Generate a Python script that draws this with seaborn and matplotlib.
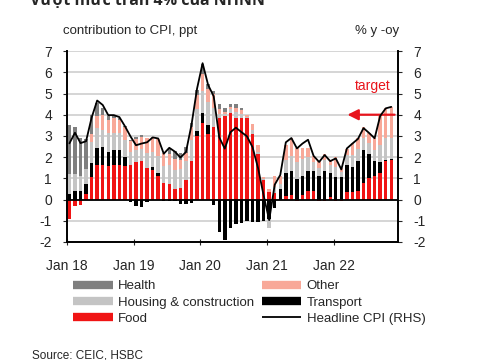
import numpy as np
import pandas as pd
import matplotlib
matplotlib.use("Agg")
import matplotlib.pyplot as plt
from matplotlib.lines import Line2D
import seaborn as sns

sns.set_style("white")
plt.rcParams["font.family"] = ["Liberation Sans", "DejaVu Sans"]
plt.rcParams["axes.unicode_minus"] = False

# contributions to CPI (ppt), Jan 2018 - Nov 2022
food = [-0.9, -0.3, -0.25, 0.25, 1.05, 1.65, 1.65, 1.6, 1.65, 1.65, 1.6, 1.65,
        1.75, 1.8, 1.5, 1.4, 1.1, 0.8, 0.75, 0.5, 0.55, 0.9, 1.8, 3.0,
        3.6, 3.1, 3.4, 3.85, 3.95, 4.1, 3.85, 3.85, 3.85, 3.1, 2.15, 0.9,
        0.35, 0.3, 0.0, 0.15, 0.2, -0.05, 0.2, 0.4, 0.4, -0.05, -0.05, 0.1,
        -0.05, -0.05, 0.35, 0.35, 0.4, 0.8, 1.0, 1.1, 1.25, 1.8, 1.85]
transport = [0.25, 0.4, 0.4, 0.5, 0.65, 0.8, 0.85, 0.65, 0.7, 0.7, 0.4, -0.1,
             -0.3, -0.35, -0.1, 0.15, 0.15, -0.05, -0.05, -0.05, -0.2, -0.2, -0.15, 0.25,
             0.5, 0.4, -0.25, -1.55, -1.9, -1.35, -1.15, -1.1, -1.0, -1.05, -1.05, -1.0,
             -0.9, -0.4, 0.5, 1.1, 1.15, 0.95, 0.9, 0.95, 0.95, 1.1, 1.35, 1.15,
             1.05, 1.05, 1.3, 1.2, 1.4, 1.55, 1.15, 0.7, 0.5, 0.05, 0.05]
housing = [0.95, 0.8, 0.7, 0.7, 1.0, 0.9, 0.8, 0.9, 0.8, 0.8, 0.8, 0.6,
           0.6, 0.6, 0.7, 0.7, 0.8, 0.8, 0.9, 0.9, 0.9, 0.9, 1.0, 1.0,
           1.0, 1.1, 0.9, 0.2, 0.1, 0.15, 0.3, 0.2, 0.05, 0.2, 0.1, 0.05,
           -0.45, 0.3, 0.25, 0.6, 0.7, 0.8, 0.8, 0.65, 0.4, 0.4, 0.5, 0.4,
           0.5, 0.25, 0.45, 0.55, 0.6, 0.55, 0.5, 0.55, 0.8, 1.05, 1.0]
other = [0.0, 0.0, 0.0, 0.0, 0.4, 0.6, 0.7, 0.6, 0.7, 0.6, 0.6, 0.5,
         0.5, 0.55, 0.7, 0.7, 0.8, 0.6, 0.5, 0.5, 0.4, 0.4, 0.6, 0.7,
         0.8, 0.6, 0.7, 0.2, 0.1, 0.1, 0.15, 0.15, 0.1, 0.25, 0.3, 0.1,
         0.15, 0.5, 0.35, 0.7, 0.85, 0.7, 0.55, 0.45, 0.3, 0.3, 0.3, 0.2,
         0.45, 0.2, 0.3, 0.55, 0.5, 0.5, 0.5, 0.55, 1.4, 1.4, 1.45]
health = [2.3, 2.2, 1.8, 1.4, 0.9, 0.6, 0.3, 0.2, 0.1, 0.1, 0.05, 0.05,
          0.1, 0.1, 0.0, 0.0, 0.0, 0.0, 0.3, 0.4, 0.35, 0.3, 0.2, 0.2,
          0.5, 0.25, 0.1, 0.25, 0.15, 0.15, 0.2, 0.1, 0.0, 0.0, 0.0, 0.0,
          0.0, 0.0, 0.0, 0.0, 0.0, 0.0, 0.0, 0.0, 0.0, 0.0, 0.0, 0.0,
          0.0, 0.0, 0.0, 0.0, 0.0, 0.0, 0.0, 0.0, 0.0, 0.0, 0.0]
# headline CPI, % y-o-y
headline = [2.65, 3.15, 2.66, 2.75, 3.86, 4.67, 4.46, 3.98, 3.98, 3.89, 3.46, 2.98,
            2.56, 2.64, 2.70, 2.93, 2.88, 2.16, 2.44, 2.26, 1.98, 2.24, 3.52, 5.23,
            6.43, 5.40, 4.87, 2.93, 2.40, 3.17, 3.39, 3.18, 2.98, 2.47, 1.48, 0.19,
            -0.97, 0.70, 1.16, 2.70, 2.90, 2.41, 2.64, 2.82, 2.06, 1.77, 2.10, 1.81,
            1.94, 1.42, 2.41, 2.64, 2.86, 3.37, 3.14, 2.89, 3.94, 4.30, 4.37]
tick_labels = ["Jan 18", "Jan 19", "Jan 20", "Jan 21", "Jan 22"]

df = pd.DataFrame({"Food": food, "Transport": transport,
                   "Housing & construction": housing, "Other": other,
                   "Health": health, "Headline": headline})
colors = {"Food": "#f01414", "Transport": "#000000",
          "Housing & construction": "#c4c4c4", "Other": "#f8a898",
          "Health": "#7f7f7f"}
order = ["Food", "Transport", "Housing & construction", "Other", "Health"]
red = "#e8141c"

fig = plt.figure(figsize=(4.8, 3.6), dpi=100)
ax = fig.add_axes([0.14, 0.328, 0.689, 0.53])
x = np.arange(len(df))

pos_base = np.zeros(len(df))
neg_base = np.zeros(len(df))
for name in order:
    v = df[name].values
    bottom = np.where(v >= 0, pos_base, neg_base)
    ax.bar(x, v, bottom=bottom, width=0.62, color=colors[name], linewidth=0, zorder=2)
    pos_base += np.clip(v, 0, None)
    neg_base += np.clip(v, None, 0)

ax.axhline(0, color="black", lw=1.3, zorder=3)
ax.set_ylim(-2, 7)
ax.set_xlim(-0.4, 59.2)
ax.set_yticks(range(-2, 8))
ax.yaxis.grid(True, color="#d2d2d2", lw=1.3)
ax.set_axisbelow(True)
ax.set_xticks([i * 12 - 0.4 for i in range(len(tick_labels))])
ax.set_xticklabels(tick_labels)
ax.tick_params(axis="y", length=3, pad=8, labelsize=10, left=True, direction="out")
ax.tick_params(axis="x", length=4, pad=10, labelsize=10, bottom=True, direction="inout")
for s in ["left", "bottom"]:
    ax.spines[s].set_color("black")
    ax.spines[s].set_linewidth(1.4)
ax.spines["top"].set_visible(False)
ax.spines["right"].set_visible(False)

ax2 = ax.twinx()
sns.lineplot(x=x, y=df["Headline"].values, ax=ax2, color="black", lw=1.3, zorder=4)
ax2.set_ylim(-2, 7)
ax2.set_yticks(range(-2, 8))
ax2.tick_params(axis="y", length=3, pad=8, labelsize=10, right=True, direction="out")
for s in ["top", "left", "bottom"]:
    ax2.spines[s].set_visible(False)
ax2.spines["right"].set_color("black")
ax2.spines["right"].set_linewidth(1.4)

ax2.annotate("", xy=(49.6, 4.0), xytext=(59.1, 4.0),
             arrowprops=dict(arrowstyle="-|>", color=red, lw=1.6, mutation_scale=16))
ax2.text(54.7, 5.35, "target", color=red, fontsize=10, ha="center", va="center")

fig.text(0.062, 0.986, "Vượt mức trần 4% của NHNN", fontsize=11.5, fontweight="bold",
         family=["Open Sans", "DejaVu Sans"], va="baseline")
fig.text(63 / 480, 1 - 31 / 360, "contribution to CPI, ppt", fontsize=9.5, va="center")
fig.text(399 / 480, 1 - 31 / 360, "% y -oy", fontsize=9.5, va="center", ha="right")
fig.text(32 / 480, 1 - 356 / 360, "Source: CEIC, HSBC", fontsize=8.5, va="center")

handles = [Line2D([], [], color=colors["Health"], lw=6, solid_capstyle="butt"),
           Line2D([], [], color=colors["Housing & construction"], lw=6, solid_capstyle="butt"),
           Line2D([], [], color=colors["Food"], lw=6, solid_capstyle="butt"),
           Line2D([], [], color=colors["Other"], lw=6, solid_capstyle="butt"),
           Line2D([], [], color=colors["Transport"], lw=6, solid_capstyle="butt"),
           Line2D([], [], color="black", lw=1.3, solid_capstyle="butt")]
labels = ["Health", "Housing & construction", "Food", "Other", "Transport",
          "Headline CPI (RHS)"]
fig.legend(handles, labels, ncol=2, loc="upper left", bbox_to_anchor=(0.152, 0.222),
           frameon=False, fontsize=9.5, handlelength=3.0, handletextpad=0.4,
           columnspacing=0.6, labelspacing=0.3, borderpad=0, borderaxespad=0)

fig.savefig("out.png", dpi=100)
